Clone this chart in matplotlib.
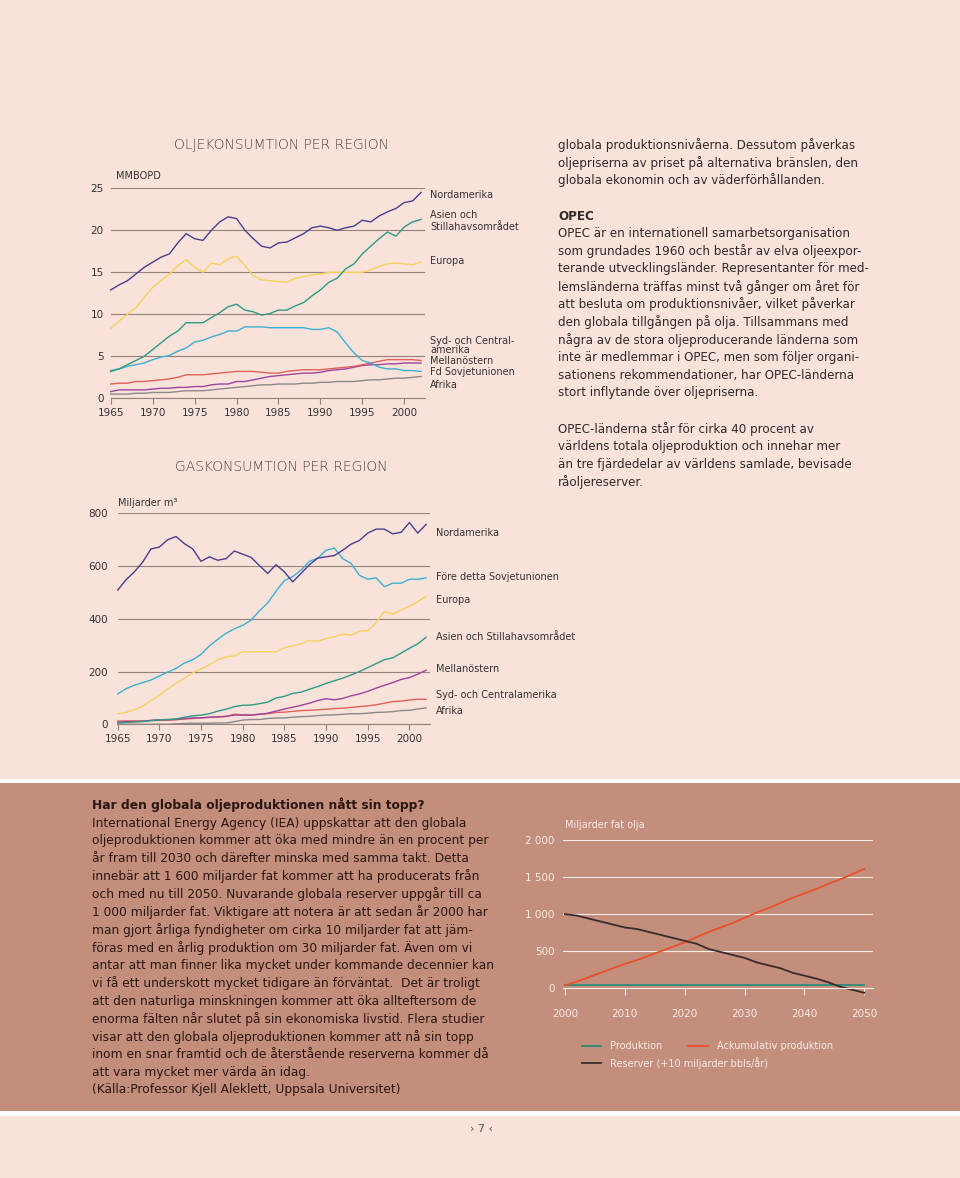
import matplotlib
matplotlib.use("Agg")
import matplotlib.pyplot as plt
from matplotlib.patches import Rectangle
from matplotlib.lines import Line2D

W, H = 960, 1178
PINK = "#f9e2da"
BROWN = "#c38e7c"

# ---------------- data ----------------
years = list(range(1965, 2003))

oil_nordamerika = [12.9,13.5,14.0,14.8,15.6,16.2,16.8,17.2,18.5,19.6,
                   19.0,18.8,20.0,21.0,21.6,21.4,20.0,19.0,18.1,17.9,
                   18.5,18.6,19.1,19.6,20.3,20.5,20.3,20.0,20.3,20.5,
                   21.2,21.0,21.7,22.2,22.6,23.3,23.5,24.5]
oil_asien = [3.2,3.5,4.0,4.5,5.0,5.8,6.6,7.4,8.0,9.0,
             9.0,9.0,9.6,10.2,10.9,11.2,10.5,10.3,9.9,10.1,
             10.5,10.5,11.0,11.4,12.2,12.9,13.8,14.3,15.4,16.0,
             17.2,18.1,19.0,19.8,19.3,20.4,21.0,21.3]
oil_europa = [8.3,9.2,10.0,10.8,12.0,13.2,14.0,14.8,15.8,16.5,
              15.6,15.0,16.1,15.9,16.6,16.9,15.8,14.6,14.1,14.0,
              13.9,13.8,14.3,14.5,14.7,14.8,15.0,15.0,15.0,15.0,
              15.0,15.3,15.7,16.0,16.1,16.0,15.9,16.2]
oil_sovjet = [3.3,3.5,3.8,4.0,4.2,4.6,4.9,5.1,5.6,6.0,
              6.7,6.9,7.3,7.6,8.0,8.0,8.5,8.5,8.5,8.4,
              8.4,8.4,8.4,8.4,8.2,8.2,8.4,7.9,6.6,5.4,
              4.5,4.2,3.7,3.5,3.5,3.3,3.3,3.2]
oil_sydamerika = [1.7,1.8,1.8,2.0,2.0,2.1,2.2,2.3,2.5,2.8,
                  2.8,2.8,2.9,3.0,3.1,3.2,3.2,3.2,3.1,3.0,
                  3.0,3.2,3.3,3.4,3.4,3.4,3.5,3.6,3.7,3.8,
                  4.0,4.2,4.4,4.6,4.6,4.6,4.6,4.5]
oil_mellanostern = [0.8,1.0,1.0,1.0,1.0,1.1,1.2,1.2,1.3,1.3,
                    1.4,1.4,1.6,1.7,1.7,2.0,2.0,2.2,2.4,2.6,
                    2.7,2.8,2.9,3.0,3.0,3.1,3.3,3.4,3.5,3.7,
                    3.9,4.0,4.0,4.1,4.1,4.2,4.2,4.2]
oil_afrika = [0.5,0.5,0.5,0.6,0.6,0.7,0.7,0.7,0.8,0.9,
              0.9,0.9,1.0,1.1,1.2,1.3,1.4,1.5,1.6,1.6,
              1.7,1.7,1.7,1.8,1.8,1.9,1.9,2.0,2.0,2.0,
              2.1,2.2,2.2,2.3,2.4,2.4,2.5,2.6]

gas_nordamerika = [509,548,578,615,665,672,700,712,685,665,
                   618,635,622,628,657,645,633,602,572,605,
                   578,540,572,605,630,635,640,660,683,697,
                   725,740,740,722,728,765,725,758]
gas_sovjet = [115,135,148,158,168,183,198,212,232,245,
              265,297,322,345,362,375,395,430,460,505,
              545,560,585,618,630,660,668,628,610,565,
              550,555,522,535,535,550,550,555]
gas_europa = [40,45,55,68,90,110,135,155,175,195,
              210,225,245,255,260,275,275,275,275,275,
              290,298,305,318,315,325,332,342,338,353,
              355,385,428,418,433,448,465,485]
gas_asien = [5,7,9,10,14,17,18,20,27,32,
             35,40,50,57,67,72,73,78,84,100,
             106,117,122,133,143,155,165,175,187,200,
             215,230,245,252,270,288,305,330]
gas_mellanostern = [8,10,10,12,15,17,18,19,22,24,
                    25,27,28,30,35,35,35,38,42,50,
                    58,65,72,80,90,97,93,98,108,115,
                    125,137,148,158,170,177,190,205]
gas_sydamerika = [12,13,13,13,14,15,15,17,20,22,
                  24,26,28,30,38,36,35,38,40,45,
                  46,49,52,53,55,57,60,61,64,67,
                  70,74,80,86,88,92,95,95]
gas_afrika = [0,0,0,0,0,0,0,2,3,4,
              4,4,5,5,10,16,18,18,22,24,
              24,27,29,30,33,35,36,38,40,40,
              42,45,46,48,52,53,58,62]

proj_years = [2000,2002,2004,2006,2008,2010,2012,2014,2016,2018,2020,2022,2024,
              2026,2028,2030,2032,2034,2036,2038,2040,2042,2044,2046,2048,2050]
ackumulativ = [40,90,150,210,270,330,380,440,500,560,620,690,760,
               820,880,950,1020,1080,1150,1220,1280,1340,1410,1470,1540,1610]
reserver = [1000,980,940,900,860,820,800,760,720,680,640,600,530,
            490,450,410,350,310,270,210,170,130,80,20,-20,-60]
prod_years = [2000, 2050]
produktion = [40, 40]

oil_ticks = [0, 5, 10, 15, 20, 25]
gas_ticks = [0, 200, 400, 600, 800]
year_ticks = [1965, 1970, 1975, 1980, 1985, 1990, 1995, 2000]
proj_ticks = [2000, 2010, 2020, 2030, 2040, 2050]
proj_yticks = [0, 500, 1000, 1500, 2000]
proj_ylabels = ["0", "500", "1 000", "1 500", "2 000"]

C_NA = "#4a3d8f"
C_AS = "#2f9a82"
C_EU = "#f6d25c"
C_SU = "#3cafd2"
C_SA = "#e0615a"
C_ME = "#9c469e"
C_AF = "#8c8888"

# ---------------- helpers ----------------
def fx(x):
    return x / W

def fy(y):
    return 1 - y / H

def rect(l, t, r, b):
    return [fx(l), fy(b), (r - l) / W, (b - t) / H]

plt.rcParams['font.family'] = ['DejaVu Sans']
fig = plt.figure(figsize=(W / 100, H / 100), dpi=100, facecolor=PINK)

# background bands
for (t, b, col) in [(779, 783, "white"), (783, 1111, BROWN), (1111, 1116, "white")]:
    fig.patches.append(Rectangle((0, fy(b)), 1, (b - t) / H, transform=fig.transFigure,
                                 facecolor=col, edgecolor="none", zorder=-5))

GRID = "#93837c"
TXT = "#333333"
LW = 1.0
TICK = 7.5

def style_axes(ax, yt, gridcolor, labelcolor, ypad):
    ax.set_facecolor("none")
    for s in ["top", "right", "left"]:
        ax.spines[s].set_visible(False)
    ax.spines["bottom"].set_color(gridcolor)
    ax.spines["bottom"].set_linewidth(0.8)
    ax.set_yticks(yt)
    ax.yaxis.grid(True, color=gridcolor, linewidth=0.8)
    ax.set_axisbelow(True)
    ax.tick_params(axis="y", length=0, pad=ypad, labelsize=TICK, labelcolor=labelcolor)
    ax.tick_params(axis="x", length=4, width=0.8, color=gridcolor, pad=3,
                   labelsize=TICK, labelcolor=labelcolor)

# ---------------- oil chart ----------------
ax1 = fig.add_axes(rect(110.7, 188.3, 425, 398.3))
ax1.set_xlim(1965, 2002.47)
ax1.set_ylim(0, 25)
style_axes(ax1, oil_ticks, GRID, TXT, 5)
ax1.set_xticks(year_ticks)
for vals, c in [(oil_afrika, C_AF), (oil_mellanostern, C_ME), (oil_sydamerika, C_SA),
                (oil_sovjet, C_SU), (oil_europa, C_EU), (oil_asien, C_AS),
                (oil_nordamerika, C_NA)]:
    ax1.plot(years, vals, color=c, linewidth=LW, clip_on=False)

fig.text(fx(281), fy(145), "OLJEKONSUMTION PER REGION", ha="center", va="center",
         fontsize=10, fontweight="light", color="#4a4242")
fig.text(fx(116), fy(176), "MMBOPD", ha="left", va="center", fontsize=7, color=TXT)
for txt, y in [("Nordamerika", 195), ("Asien och", 215.5), ("Stillahavsområdet", 227),
               ("Europa", 261.5), ("Syd- och Central-", 341), ("amerika", 350),
               ("Mellanöstern", 361.5), ("Fd Sovjetunionen", 372), ("Afrika", 385)]:
    fig.text(fx(430), fy(y), txt, ha="left", va="center", fontsize=7, color=TXT)

# ---------------- gas chart ----------------
ax2 = fig.add_axes(rect(117.7, 513.3, 430, 724.3))
ax2.set_xlim(1965, 2002.47)
ax2.set_ylim(0, 800)
style_axes(ax2, gas_ticks, GRID, TXT, 7)
ax2.set_xticks(year_ticks)
for vals, c in [(gas_afrika, C_AF), (gas_sydamerika, C_SA), (gas_mellanostern, C_ME),
                (gas_asien, C_AS), (gas_europa, C_EU), (gas_sovjet, C_SU),
                (gas_nordamerika, C_NA)]:
    ax2.plot(years, vals, color=c, linewidth=LW, clip_on=False)

fig.text(fx(281), fy(467), "GASKONSUMTION PER REGION", ha="center", va="center",
         fontsize=10, fontweight="light", color="#4a4242")
fig.text(fx(118), fy(503), "Miljarder m³", ha="left", va="center", fontsize=7, color=TXT)
for txt, y in [("Nordamerika", 533), ("Före detta Sovjetunionen", 577), ("Europa", 600),
               ("Asien och Stillahavsområdet", 637), ("Mellanöstern", 669),
               ("Syd- och Centralamerika", 695), ("Afrika", 711)]:
    fig.text(fx(436), fy(y), txt, ha="left", va="center", fontsize=7, color=TXT)

# ---------------- right text column ----------------
BODY = 8.6
right_lines = [
    (145.0, "globala produktionsnivåerna. Dessutom påverkas", "normal"),
    (162.7, "oljepriserna av priset på alternativa bränslen, den", "normal"),
    (180.4, "globala ekonomin och av väderförhållanden.", "normal"),
    (216.0, "OPEC", "bold"),
    (233.5, "OPEC är en internationell samarbetsorganisation", "normal"),
    (251.2, "som grundades 1960 och består av elva oljeexpor-", "normal"),
    (268.9, "terande utvecklingsländer. Representanter för med-", "normal"),
    (286.6, "lemsländerna träffas minst två gånger om året för", "normal"),
    (304.3, "att besluta om produktionsnivåer, vilket påverkar", "normal"),
    (322.0, "den globala tillgången på olja. Tillsammans med", "normal"),
    (339.7, "några av de stora oljeproducerande länderna som", "normal"),
    (357.4, "inte är medlemmar i OPEC, men som följer organi-", "normal"),
    (375.1, "sationens rekommendationer, har OPEC-länderna", "normal"),
    (392.8, "stort inflytande över oljepriserna.", "normal"),
    (429.0, "OPEC-länderna står för cirka 40 procent av", "normal"),
    (446.7, "världens totala oljeproduktion och innehar mer", "normal"),
    (464.4, "än tre fjärdedelar av världens samlade, bevisade", "normal"),
    (482.1, "råoljereserver.", "normal"),
]
for y, txt, w in right_lines:
    fig.text(fx(558), fy(y), txt, ha="left", va="center", fontsize=BODY,
             fontweight=w, color="#2e2a2a")

# ---------------- brown box text ----------------
DARK = "#2b1712"
box_lines = [
    "International Energy Agency (IEA) uppskattar att den globala",
    "oljeproduktionen kommer att öka med mindre än en procent per",
    "år fram till 2030 och därefter minska med samma takt. Detta",
    "innebär att 1 600 miljarder fat kommer att ha producerats från",
    "och med nu till 2050. Nuvarande globala reserver uppgår till ca",
    "1 000 miljarder fat. Viktigare att notera är att sedan år 2000 har",
    "man gjort årliga fyndigheter om cirka 10 miljarder fat att jäm-",
    "föras med en årlig produktion om 30 miljarder fat. Även om vi",
    "antar att man finner lika mycket under kommande decennier kan",
    "vi få ett underskott mycket tidigare än förväntat.  Det är troligt",
    "att den naturliga minskningen kommer att öka allteftersom de",
    "enorma fälten når slutet på sin ekonomiska livstid. Flera studier",
    "visar att den globala oljeproduktionen kommer att nå sin topp",
    "inom en snar framtid och de återstående reserverna kommer då",
    "att vara mycket mer värda än idag.",
    "(Källa:Professor Kjell Aleklett, Uppsala Universitet)",
]
fig.text(fx(92), fy(805), "Har den globala oljeproduktionen nått sin topp?", ha="left",
         va="center", fontsize=8.8, fontweight="bold", color=DARK)
for i, txt in enumerate(box_lines):
    fig.text(fx(92), fy(823 + i * 17.8), txt, ha="left", va="center", fontsize=8.8,
             color=DARK)

# ---------------- projection chart ----------------
LIGHT = "#f7ebe6"
PLW = 1.3
ax3 = fig.add_axes(rect(563, 840, 872.7, 988.3))
ax3.set_xlim(1999.67, 2051.4)
ax3.set_ylim(0, 2000)
style_axes(ax3, proj_yticks, LIGHT, LIGHT, 6)
ax3.set_yticklabels(proj_ylabels)
ax3.set_xticks(proj_ticks)
ax3.tick_params(axis="x", pad=10, length=5)
ax3.plot(prod_years, produktion, color="#2e8a78", linewidth=PLW, clip_on=False)
ax3.plot(proj_years, ackumulativ, color="#e8502c", linewidth=PLW, clip_on=False)
ax3.plot(proj_years, reserver, color="#3a2a2a", linewidth=PLW, clip_on=False)

fig.text(fx(565), fy(825), "Miljarder fat olja", ha="left", va="center", fontsize=7,
         color=LIGHT)

for (x0, x1, y, c) in [(582, 601, 1046, "#2e8a78"), (688, 708, 1046, "#e8502c"),
                       (582, 601, 1063, "#3a2a2a")]:
    fig.add_artist(Line2D([fx(x0), fx(x1)], [fy(y), fy(y)], transform=fig.transFigure,
                          color=c, linewidth=PLW))
fig.text(fx(610), fy(1046), "Produktion", ha="left", va="center", fontsize=7, color=LIGHT)
fig.text(fx(717), fy(1046), "Ackumulativ produktion", ha="left", va="center", fontsize=7,
         color=LIGHT)
fig.text(fx(610), fy(1063), "Reserver (+10 miljarder bbls/år)", ha="left", va="center",
         fontsize=7, color=LIGHT)

# page number
fig.text(fx(481), fy(1129), "› 7 ‹", ha="center", va="center", fontsize=8, color="#555555")

fig.savefig("out.png", dpi=100, facecolor=PINK)
